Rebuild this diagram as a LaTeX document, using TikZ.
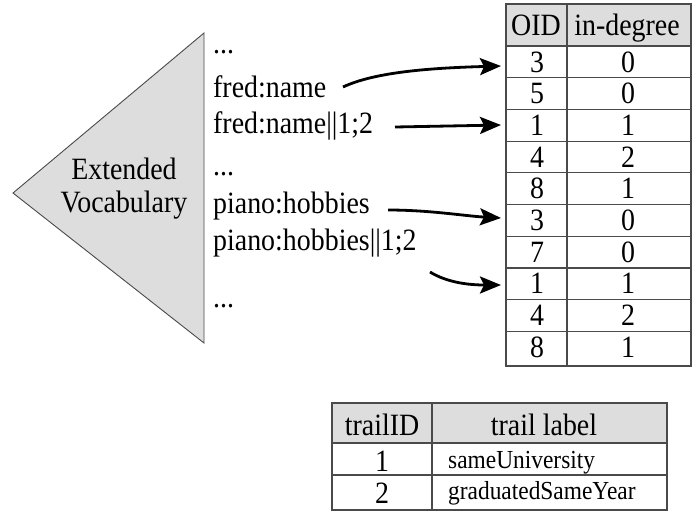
\documentclass[tikz,border=0pt]{standalone}
\usepackage{fontspec}
\setmainfont{Liberation Serif}[FakeStretch=0.9]
\usetikzlibrary{arrows.meta}
\definecolor{cellgray}{HTML}{DDDDDD}
\definecolor{rulegray}{HTML}{4A4A4A}
\tikzset{
  bigtxt/.style={font=\fontsize{31}{34}\selectfont, inner sep=0pt},
  smalltxt/.style={font=\fontsize{26}{29}\selectfont, inner sep=0pt},
  vocab/.style={bigtxt, anchor=base west},
  rule/.style={draw=rulegray, line width=1.2pt},
  maparrow/.style={line width=2.8pt, -{Stealth[length=21pt, width=17pt, inset=4pt]}},
}
\begin{document}
\begin{tikzpicture}[x=1pt, y=-1pt]
\useasboundingbox (0,0) rectangle (692,512);

% vocabulary triangle
\filldraw[fill=cellgray, draw=rulegray, line width=0.9pt]
  (204,33) -- (204,343) -- (13,193) -- cycle;
\node[bigtxt, anchor=base] (ext) at (124,179) {Extended};
\node[bigtxt, anchor=base] (voc) at (124,212) {Vocabulary};

% vocabulary entries
\node[vocab] (d1) at (213,53) {...};
\node[vocab] (fred) at (213,97) {fred:name};
\node[vocab] (fredt) at (213,133) {fred:name||1;2};
\node[vocab] (d2) at (213,175) {...};
\node[vocab] (piano) at (213,213) {piano:hobbies};
\node[vocab] (pianot) at (213,250) {piano:hobbies||1;2};
\node[vocab] (d3) at (213,307) {...};

% OID / in-degree table
\fill[cellgray] (506,4) rectangle (691,46);
\foreach \y in {46,77.7,109.4,141.1,172.8,204.5,236.2,267.9,299.6,331.3}
  \draw[rule] (506,\y) -- (691,\y);
\draw[rule] (506,4) rectangle (691,366);
\draw[rule] (567,4) -- (567,366);
\node[bigtxt, anchor=base] (hoid) at (536,35) {OID};
\node[bigtxt, anchor=base] (hdeg) at (627,35) {in-degree};
\foreach \i/\o/\d in {1/3/0,2/5/0,3/1/1,4/4/2,5/8/1,6/3/0,7/7/0,8/1/1,9/4/2,10/8/1}{
  \pgfmathsetmacro{\yb}{46+31.7*(\i-1)+26}
  \node[bigtxt, anchor=base] (oid\i) at (537,\yb) {\o};
  \node[bigtxt, anchor=base] (deg\i) at (628,\yb) {\d};
}

% arrow ends
\coordinate (s1) at (343,87);
\coordinate (e1) at (501,66);
\coordinate (s2) at (395,127);
\coordinate (e2) at (501,125);
\coordinate (s3) at (388,210);
\coordinate (e3) at (501,218);
\coordinate (s4) at (430,272);
\coordinate (e4) at (501,285);

\draw[maparrow] (s1) .. controls (375,72) and (430,68) .. (e1);
\draw[maparrow] (s2) -- (e2);
\draw[maparrow] (s3) .. controls (430,210) and (465,216) .. (e3);
\draw[maparrow] (s4) .. controls (448,283) and (470,285) .. (e4);

% trail table
\fill[cellgray] (332,403) rectangle (667,443);
\draw[rule] (332,443) -- (667,443);
\draw[rule] (332,475) -- (667,475);
\draw[rule] (332,403) rectangle (667,510);
\draw[rule] (432,403) -- (432,510);
\node[bigtxt, anchor=base] (htid) at (382,435) {trailID};
\node[bigtxt, anchor=base] (hlab) at (544,435) {trail label};
\node[bigtxt, anchor=base] (tid1) at (382,471) {1};
\node[bigtxt, anchor=base] (tid2) at (382,503) {2};
\node[smalltxt, anchor=base west] (lab1) at (448,468) {sameUniversity};
\node[smalltxt, anchor=base west] (lab2) at (448,499) {graduatedSameYear};
\end{tikzpicture}
\end{document}
